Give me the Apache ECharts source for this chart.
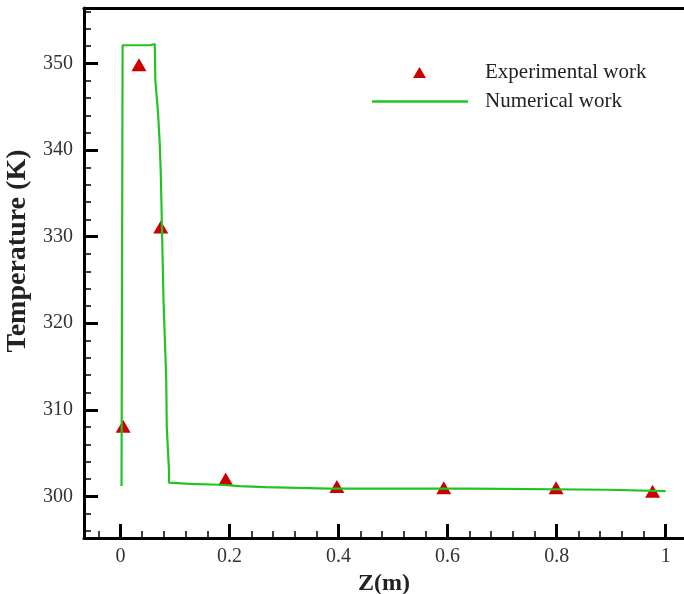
<!DOCTYPE html>
<html>
<head>
<meta charset="utf-8">
<script src="https://cdn.jsdelivr.net/npm/echarts@6/dist/echarts.min.js"></script>
<style>
  html, body { margin: 0; padding: 0; background: #fff; }
  #chart { width: 684px; height: 594px; }
</style>
</head>
<body>
<div id="chart"></div>
<script>
// experimental points (triangles)
var expZ = [0.005, 0.034, 0.074, 0.193, 0.397, 0.593, 0.799, 0.976];
var expT = [308.1, 349.86, 331.1, 302.0, 301.15, 301.0, 301.0, 300.6];

// numerical curve
var numZ = [0.002, 0.004, 0.054, 0.063, 0.064, 0.069, 0.072, 0.074, 0.079, 0.084, 0.085, 0.089, 0.089,
            0.127, 0.182, 0.219, 0.265, 0.384, 0.646, 0.648, 0.893, 0.895, 1.0];
var numT = [301.2, 352.1, 352.1, 352.25, 348.1, 344.3, 340.8, 337.4, 322.7, 313.5, 308.0, 303.1, 301.6,
            301.46, 301.35, 301.19, 301.07, 300.89, 300.89, 300.77, 300.77, 300.61, 300.61];

// ticks
var xMajor = [0, 0.2, 0.4, 0.6, 0.8, 1];
var xMinor = [-0.04, 0.04, 0.08, 0.12, 0.16, 0.24, 0.28, 0.32, 0.36, 0.44, 0.48, 0.52, 0.56,
              0.64, 0.68, 0.72, 0.76, 0.84, 0.88, 0.92, 0.96];
var yMajor = [300, 310, 320, 330, 340, 350];
var yMinor = [296, 298, 302, 304, 306, 308, 312, 314, 316, 318, 322, 324, 326, 328,
              332, 334, 336, 338, 342, 344, 346, 348, 352, 354, 356];

var serif = '"Liberation Serif", "Times New Roman", serif';
var xMin = -0.0668, xMax = 1.0336, yMin = 295.2, yMax = 356.4;
var red = '#cc0000', green = '#22c422';

var myChart = echarts.init(document.getElementById('chart'));

var legendText = { fontFamily: serif, fontSize: 21, color: '#222' };

var option = {
    animation: false,
    backgroundColor: '#fff',
    grid: { left: 84, right: 0, top: 8, bottom: 56, containLabel: false, outerBoundsMode: 'none' },
    legend: [
        {
            left: 413, top: 62, padding: 0,
            itemWidth: 13, itemHeight: 11,
            data: [{ name: 'Experimental work', icon: 'triangle' }],
            textStyle: Object.assign({ padding: [0, 0, 0, 54] }, legendText)
        },
        {
            left: 372, top: 91, padding: 0,
            itemWidth: 96, itemHeight: 2.5,
            data: [{ name: 'Numerical work', icon: 'rect' }],
            textStyle: Object.assign({ padding: [0, 0, 0, 12] }, legendText)
        }
    ],
    xAxis: [
        {
            type: 'value', min: xMin, max: xMax, position: 'bottom',
            name: 'Z(m)', nameLocation: 'middle', nameGap: 26,
            nameTextStyle: { fontFamily: serif, fontSize: 24, fontWeight: 'bold', color: '#222' },
            axisLine: { onZero: false, lineStyle: { color: '#000', width: 3 } },
            axisTick: { inside: true, length: 14, lineStyle: { color: '#000', width: 3 }, customValues: xMajor },
            axisLabel: { margin: 9, fontFamily: serif, fontSize: 20, color: '#333', customValues: xMajor },
            splitLine: { show: false }
        },
        {
            type: 'value', min: xMin, max: xMax, position: 'bottom',
            axisLine: { show: false, onZero: false },
            axisTick: { inside: true, length: 7, lineStyle: { color: '#000', width: 1.5 }, customValues: xMinor },
            axisLabel: { show: false },
            splitLine: { show: false }
        },
        {
            type: 'value', min: xMin, max: xMax, position: 'top',
            axisLine: { onZero: false, lineStyle: { color: '#000', width: 3 } },
            axisTick: { show: false },
            axisLabel: { show: false },
            splitLine: { show: false }
        }
    ],
    yAxis: [
        {
            type: 'value', min: yMin, max: yMax, position: 'left',
            name: 'Temperature (K)', nameLocation: 'middle', nameGap: 47,
            nameTextStyle: { fontFamily: serif, fontSize: 28, fontWeight: 'bold', color: '#222', padding: [0, 0, 0, 44] },
            axisLine: { onZero: false, lineStyle: { color: '#000', width: 3 } },
            axisTick: { inside: true, length: 14, lineStyle: { color: '#000', width: 3 }, customValues: yMajor },
            axisLabel: { margin: 11, fontFamily: serif, fontSize: 20, color: '#333', customValues: yMajor },
            splitLine: { show: false }
        },
        {
            type: 'value', min: yMin, max: yMax, position: 'left',
            axisLine: { show: false, onZero: false },
            axisTick: { inside: true, length: 7, lineStyle: { color: '#000', width: 1.5 }, customValues: yMinor },
            axisLabel: { show: false },
            splitLine: { show: false }
        }
    ],
    series: [
        {
            name: 'Experimental work',
            type: 'scatter',
            symbol: 'triangle',
            symbolSize: [15, 13],
            itemStyle: { color: red, opacity: 1 },
            data: expZ.map(function (z, i) { return [z, expT[i]]; })
        },
        {
            name: 'Numerical work',
            type: 'line',
            symbol: 'none',
            lineStyle: { color: green, width: 2.2 },
            itemStyle: { color: green },
            data: numZ.map(function (z, i) { return [z, numT[i]]; })
        }
    ]
};

myChart.setOption(option);
</script>
</body>
</html>
